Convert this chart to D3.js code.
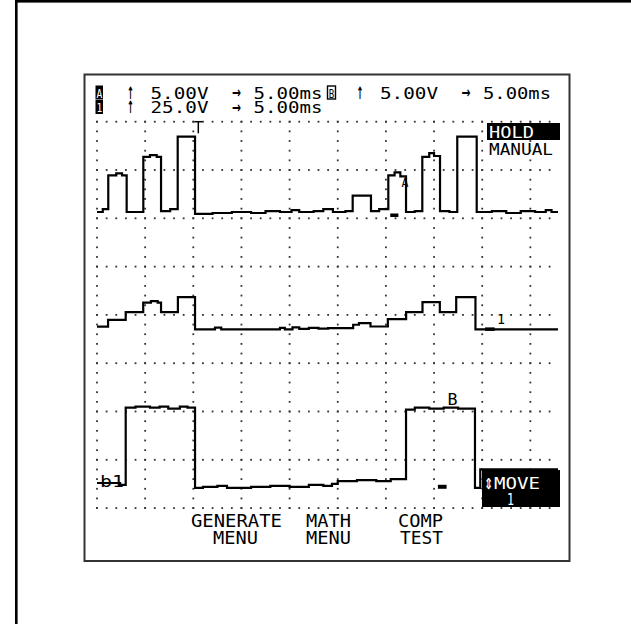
<!DOCTYPE html>
<html><head><meta charset="utf-8">
<script src="https://cdn.jsdelivr.net/npm/d3@7"></script>
<style>html,body{margin:0;padding:0;background:#fff;} svg{display:block;}</style>
</head><body>
<svg id="c" width="631" height="624"></svg>
<script>
// ---------------- DATA ----------------
// Channel A (top trace), 5 V/div, time in ms
const chA_t = [0, 0.6, 1.17, 2.0, 2.6, 3.08, 4.81, 5.5, 6.2, 6.65, 7.6, 8.38, 10.18, 12.0, 14.0, 16.0, 17.5, 19.0, 20.2, 21.0, 22.5, 23.5, 24.5, 25.8, 26.55, 28.45, 29.3, 30.25, 30.9, 31.5, 32.09, 33.0, 33.78, 34.5, 35.0, 35.62, 36.6, 37.41, 39.43, 41.0, 42.5, 44.0, 45.5, 46.6, 47.2, 47.87];
const chA_v = [0.1, 0.4, 3.9, 4.1, 3.9, 0.1, 5.8, 6.0, 5.8, 0.2, 0.4, 7.9, -0.1, 0.0, 0.1, 0.0, 0.2, 0.1, 0.3, 0.1, 0.2, 0.4, 0.1, 0.2, 1.8, 0.2, 0.4, 3.9, 4.2, 3.8, 0.1, 0.2, 5.8, 6.2, 5.9, 0.2, 0.1, 7.9, 0.1, 0.2, 0.0, 0.2, 0.1, 0.3, 0.1, 0.1];
// Channel 1 / math (middle trace), 25 V/div
const ch1_t = [0, 1.15, 2.98, 4.8, 5.6, 6.3, 6.65, 8.4, 10.18, 12.25, 12.9, 19.0, 19.5, 20.3, 21.0, 22.0, 23.0, 24.0, 26.6, 27.2, 28.4, 30.2, 32.1, 33.8, 35.6, 37.3, 39.3, 47.87];
const ch1_v = [1.4, 4.9, 8.9, 13.9, 14.6, 13.9, 8.9, 16.7, 0, 0.9, 0, 0.8, 0, 1.0, 0.3, 0.8, 0.4, 0.7, 2.4, 3.2, 1.5, 5.3, 8.9, 14.1, 8.9, 16.7, 0, 0];
// Channel B (bottom trace), 5 V/div
const chB_t = [0, 2.4, 2.98, 4.0, 5.5, 6.5, 7.4, 8.6, 9.4, 10.18, 11.0, 12.5, 13.5, 16.0, 18.0, 20.0, 22.0, 23.5, 24.4, 25.0, 27.0, 29.0, 30.5, 32.09, 33.0, 34.5, 36.0, 37.5, 39.25, 39.8, 47.87];
const chB_v = [0.6, 0.4, 8.4, 8.5, 8.4, 8.5, 8.3, 8.5, 8.4, 0.1, 0.2, 0.3, 0.1, 0.2, 0.3, 0.2, 0.4, 0.3, 0.5, 0.8, 0.9, 0.8, 1.0, 8.2, 8.4, 8.3, 8.4, 8.3, 0.1, 2.0, 2.0];

// Header readouts
const rowA = ["↑", "5.00V", "→", "5.00ms"];
const rowB = ["↑", "5.00V", "→", "5.00ms"];
const row1 = ["↑", "25.0V", "→", "5.00ms"];
// Side / soft-key labels
const holdLabels = ["HOLD", "MANUAL"];
const moveLabels = ["⇕", "MOVE", "1"];
const softKeys = [["GENERATE", "MENU"], ["MATH", "MENU"], ["COMP", "TEST"]];
const triggerMs = 10.52;

// ---------------- DRAW ----------------
const svg = d3.select("#c");
const FONT = "'DejaVu Sans Mono', monospace";

// page frame lines
svg.append("rect").attr("x", 15).attr("y", 0).attr("width", 616).attr("height", 2.6).attr("fill", "#000");
svg.append("rect").attr("x", 15).attr("y", 0).attr("width", 2.6).attr("height", 624).attr("fill", "#000");

// screen box
svg.append("rect").attr("x", 84.5).attr("y", 74.5).attr("width", 485).attr("height", 486.5)
  .attr("fill", "#fff").attr("stroke", "#333").attr("stroke-width", 2);

const x = d3.scaleLinear().domain([0, 5]).range([97, 97 + 48.15]);
const divY = d3.scaleLinear().domain([0, 8]).range([121.7, 508.1]);
const yA = d3.scaleLinear().domain([0, 5]).range([divY(1.89), divY(0.89)]);
const y1 = d3.scaleLinear().domain([0, 25]).range([divY(4.30), divY(3.30)]);
const yB = d3.scaleLinear().domain([0, 5]).range([divY(7.60), divY(6.60)]);

// grid dots
const dots = [];
for (let k = 0; k <= 9; k++) for (let j = 0; j <= 40; j++) dots.push([x(5 * k), divY(j * 0.2)]);
for (let j = 0; j <= 8; j++) for (let i = 0; i <= 47; i++) dots.push([x(i), divY(j)]);
svg.append("g").selectAll("rect").data(dots).join("rect")
  .attr("x", d => d[0] - 0.9).attr("y", d => d[1] - 0.9)
  .attr("width", 1.8).attr("height", 1.8).attr("fill", "#333");

// traces
function trace(ts, vs, ys) {
  const pts = ts.map((t, i) => [t, vs[i]]);
  const line = d3.line().x(d => x(d[0])).y(d => ys(d[1])).curve(d3.curveStepAfter);
  svg.append("path").attr("d", line(pts)).attr("fill", "none")
    .attr("stroke", "#000").attr("stroke-width", 2.2).attr("stroke-linejoin", "miter");
}
trace(chA_t, chA_v, yA);
trace(ch1_t, ch1_v, y1);
trace(chB_t, chB_v, yB);

// trigger marker
svg.append("line").attr("x1", x(triggerMs) - 4).attr("x2", x(triggerMs) + 4)
  .attr("y1", divY(0)).attr("y2", divY(0)).attr("stroke", "#000").attr("stroke-width", 1.5);
svg.append("line").attr("x1", x(triggerMs)).attr("x2", x(triggerMs))
  .attr("y1", divY(0)).attr("y2", divY(0.24)).attr("stroke", "#000").attr("stroke-width", 1.5);

// small cursor blocks
function block(t0, t1, yy, h) {
  svg.append("rect").attr("x", x(t0)).attr("y", yy).attr("width", x(t1) - x(t0)).attr("height", h).attr("fill", "#000");
}
block(30.45, 31.3, yA(0) + 0.5, 3.5);
block(40.3, 41.3, y1(0) - 2, 3.5);
block(35.4, 36.3, yB(0) - 4, 4);

function txt(s, xx, yy, size, len, fill, anchor) {
  const t = svg.append("text").attr("x", xx).attr("y", yy).text(s)
    .attr("font-family", FONT).attr("font-size", size).attr("fill", fill || "#000");
  if (len) t.attr("textLength", len).attr("lengthAdjust", "spacingAndGlyphs");
  if (anchor) t.attr("text-anchor", anchor);
  return t;
}
// trace labels
txt("A", 401.5, 187, 12, 7);
txt("1", 497, 324, 14, 8);
txt("B", 447.5, 405, 16, 10);
txt("b1", 100, 487, 15, 24);

// header
function inv(label, xx, yy) {
  svg.append("rect").attr("x", xx).attr("y", yy).attr("width", 7.5).attr("height", 14).attr("fill", "#000");
  txt(label, xx + 0.9, yy + 12.3, 13, 5.8, "#fff");
}
inv("A", 95.5, 85.5);
inv("1", 95.5, 100);
svg.append("rect").attr("x", 327.5).attr("y", 86).attr("width", 8).attr("height", 13)
  .attr("fill", "#fff").attr("stroke", "#000").attr("stroke-width", 1.4);
txt("B", 328.8, 97.5, 12, 5.5);

function row(arr, x0, yy, lens) {
  // arrows drawn larger so they reach the character height
  txt(arr[0], x0 + 3, yy, 17, 7, "#000", "middle").attr("font-family", "'DejaVu Sans', sans-serif").attr("font-weight", "bold");
  txt(arr[1], x0 + 23, yy, 15, lens[1]);
  txt(arr[2], x0 + 109, yy - 0.5, 16, 9, "#000", "middle").attr("font-family", "'DejaVu Sans', sans-serif").attr("font-weight", "bold");
  txt(arr[3], x0 + 126, yy, 15, lens[3]);
}
row(rowA, 127.5, 98.7, [null, 58, null, 69]);
row(row1, 127.5, 113, [null, 58, null, 69]);
row(rowB, 357, 98.7, [null, 58, null, 68]);

// HOLD / MANUAL
svg.append("rect").attr("x", 487).attr("y", 123).attr("width", 73).attr("height", 17).attr("fill", "#000");
txt(holdLabels[0], 489, 137.5, 16, 45, "#fff");
txt(holdLabels[1], 489, 155, 16, 64);

// MOVE box
svg.append("rect").attr("x", 482).attr("y", 470).attr("width", 78).attr("height", 37).attr("fill", "#000");
txt(moveLabels[0], 488.5, 488.5, 15, 9, "#fff", "middle").attr("font-family", "'DejaVu Sans', sans-serif").attr("font-weight", "bold");
txt(moveLabels[1], 494, 488.5, 16, 46, "#fff");
txt(moveLabels[2], 510.5, 504.5, 15, 7, "#fff", "middle");

// soft keys
const keyX = [[191, 213], [306, 306], [398, 400]];
const keyLen = [[91, 45], [45, 45], [45, 43]];
softKeys.forEach((pair, i) => {
  txt(pair[0], keyX[i][0], 527, 17.5, keyLen[i][0]);
  txt(pair[1], keyX[i][1], 543.5, 17.5, keyLen[i][1]);
});
</script>
</body></html>
